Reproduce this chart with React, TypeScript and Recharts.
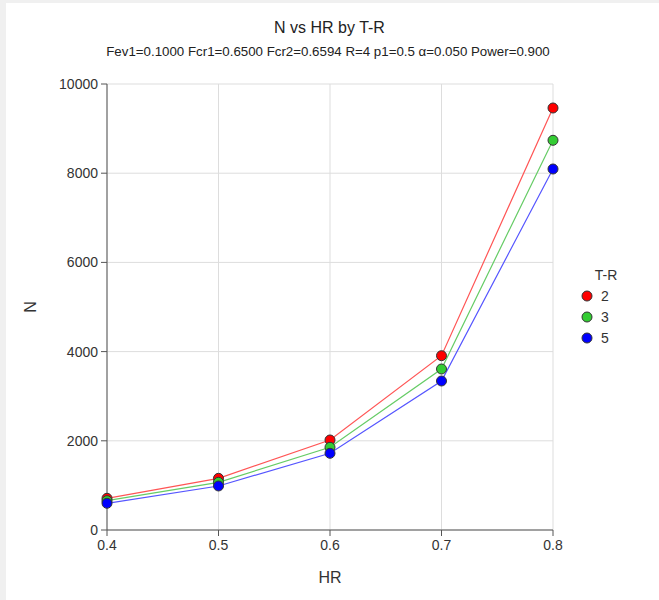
import React from 'react';
import { LineChart, Line, XAxis, YAxis, CartesianGrid, Legend, Label } from 'recharts';

const hrValues = [0.4, 0.5, 0.6, 0.7, 0.8];
const nTR2 = [711, 1159, 2018, 3908, 9462];
const nTR3 = [657, 1069, 1854, 3610, 8738];
const nTR5 = [599, 987, 1720, 3341, 8094];
const xTicks = [0.4, 0.5, 0.6, 0.7, 0.8];
const yTicks = [0, 2000, 4000, 6000, 8000, 10000];

const seriesList = [
  { key: 'tr2', name: '2', values: nTR2, line: '#ff5555', dot: '#ff0000' },
  { key: 'tr3', name: '3', values: nTR3, line: '#66cc66', dot: '#33cc33' },
  { key: 'tr5', name: '5', values: nTR5, line: '#5555ff', dot: '#0000ff' },
];

const data = hrValues.map((hr, i) => ({
  hr,
  tr2: nTR2[i],
  tr3: nTR3[i],
  tr5: nTR5[i],
}));

const font = 'Arial, "Liberation Sans", Helvetica, sans-serif';

function LegendBox() {
  return (
    <div style={{ fontFamily: font, color: '#333', width: 60 }}>
      <div style={{ fontSize: 14, textAlign: 'center', marginBottom: 2, marginLeft: -10 }}>T-R</div>
      {seriesList.map((s) => (
        <div key={s.key} style={{ display: 'flex', alignItems: 'center', height: 21, fontSize: 14 }}>
          <svg width={12} height={12} style={{ marginRight: 8 }}>
            <circle cx={6} cy={6} r={5} fill={s.dot} stroke="#333" strokeWidth={1} />
          </svg>
          <span>{s.name}</span>
        </div>
      ))}
    </div>
  );
}

export default function App() {
  return (
    <div
      style={{
        position: 'absolute',
        left: 0,
        top: 0,
        width: 659,
        height: 600,
        background: '#f0f0f0',
        overflow: 'hidden',
      }}
    >
      <div
        style={{
          position: 'absolute',
          left: 6,
          top: 3,
          width: 653,
          height: 597,
          background: '#fff',
        }}
      />
      <div
        style={{
          position: 'absolute',
          left: 0,
          width: 659,
          top: 19,
          textAlign: 'center',
          fontFamily: font,
          fontSize: 16,
          color: '#222',
        }}
      >
        N vs HR by T-R
      </div>
      <div
        style={{
          position: 'absolute',
          left: 0,
          width: 656,
          top: 44,
          textAlign: 'center',
          fontFamily: font,
          fontSize: 13.3,
          color: '#222',
        }}
      >
        Fev1=0.1000 Fcr1=0.6500 Fcr2=0.6594 R=4 p1=0.5 α=0.050 Power=0.900
      </div>
      <div style={{ position: 'absolute', left: 0, top: 0 }}>
        <LineChart
          width={659}
          height={600}
          data={data}
          margin={{ top: 84, right: 36, left: 47, bottom: 40 }}
        >
          <CartesianGrid stroke="#dddddd" />
          <XAxis
            dataKey="hr"
            type="number"
            domain={[0.4, 0.8]}
            ticks={xTicks}
            tickFormatter={(v) => v.toFixed(1)}
            height={30}
            tickSize={6}
            tick={{ fill: '#333', fontSize: 14, fontFamily: font }}
            stroke="#555"
            tickMargin={4}
          >
            <Label
              value="HR"
              position="bottom"
              offset={12}
              style={{ fill: '#333', fontSize: 16, fontFamily: font }}
            />
          </XAxis>
          <YAxis
            type="number"
            domain={[0, 10000]}
            ticks={yTicks}
            width={60}
            tickSize={6}
            tick={{ fill: '#333', fontSize: 14, fontFamily: font }}
            stroke="#555"
            tickMargin={3}
          >
            <Label
              value="N"
              angle={-90}
              position="left"
              offset={17}
              style={{ fill: '#333', fontSize: 16, fontFamily: font, textAnchor: 'middle' }}
            />
          </YAxis>
          <Legend
            layout="vertical"
            align="right"
            verticalAlign="top"
            width={70}
            wrapperStyle={{ left: 581, top: 267, width: 70 }}
            content={() => <LegendBox />}
          />
          {seriesList.map((s) => (
            <Line
              key={s.key}
              type="linear"
              dataKey={s.key}
              name={s.name}
              stroke={s.line}
              strokeWidth={1.2}
              dot={{ r: 5, fill: s.dot, stroke: '#333', strokeWidth: 1 }}
              activeDot={false}
              isAnimationActive={false}
            />
          ))}
        </LineChart>
      </div>
    </div>
  );
}
